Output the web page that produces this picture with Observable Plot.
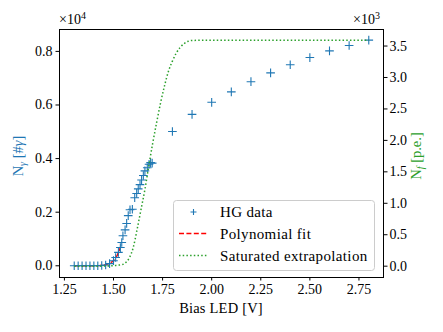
<!DOCTYPE html>
<html><head><meta charset="utf-8">
<script src="https://cdn.jsdelivr.net/npm/d3@7"></script>
<script src="https://cdn.jsdelivr.net/npm/@observablehq/plot@0.6"></script>
<style>
body{margin:0;background:#fff;}
#chart{position:relative;width:443px;height:332px;}
#chart svg, #chart svg text { font-family: "Liberation Serif", "DejaVu Serif", serif !important; }
</style></head><body><div id="chart"></div>
<script>
// HG data (left axis, units of 10^4 photons)
const hgBias = [1.30,1.32,1.34,1.36,1.38,1.40,1.42,1.44,1.46,1.48,1.50,1.511,1.525,1.535,1.542,1.548,1.559,1.567,1.575,1.584,1.596,1.608,1.618,1.626,1.635,1.643,1.652,1.66,1.672,1.681,1.689,1.697,1.8,1.9,2.0,2.1,2.2,2.3,2.4,2.5,2.6,2.7,2.8];
const hgPhotons = [0,0,0,0,0,0,0,0.001,0.003,0.008,0.019,0.031,0.05,0.068,0.087,0.112,0.134,0.158,0.187,0.209,0.211,0.254,0.27,0.287,0.303,0.32,0.337,0.354,0.366,0.379,0.385,0.383,0.501,0.565,0.610,0.649,0.687,0.720,0.750,0.777,0.802,0.822,0.842];
// Polynomial fit (left axis, units of 10^4)
const fitBias = [1.30,1.35,1.40,1.43,1.46,1.48,1.50,1.51,1.52,1.53,1.535];
const fitPhotons = [0,0,0,0.001,0.004,0.009,0.018,0.027,0.041,0.058,0.07];
// Saturated extrapolation (right axis, units of 10^3 p.e.)
const satBias = [1.30,1.40,1.45,1.50,1.52,1.54,1.56,1.58,1.60,1.62,1.64,1.66,1.68,1.70,1.72,1.74,1.76,1.78,1.80,1.82,1.84,1.86,1.88,1.90,1.95,2.00,2.20,2.40,2.60,2.80];
const satPE = [0,0,0.002,0.008,0.015,0.022,0.05,0.13,0.29,0.58,0.90,1.22,1.60,1.96,2.29,2.60,2.87,3.10,3.26,3.39,3.48,3.54,3.575,3.588,3.592,3.593,3.593,3.593,3.593,3.593];

const xTicks = [1.25,1.50,1.75,2.00,2.25,2.50,2.75];
const leftTicks = [0,0.2,0.4,0.6,0.8];
const rightTicks = [0,0.5,1.0,1.5,2.0,2.5,3.0,3.5];
const xDomain = [1.225, 2.875];
const leftDomain = [-0.0437, 0.8817];
const rightDomain = [-0.18, 3.763];

const BLUE = "#1f77b4", GREEN = "#2ca02c", RED = "#ff0000";
const FONT = "'Liberation Serif', 'DejaVu Serif', serif";

const ratio = (leftDomain[1]-leftDomain[0])/(rightDomain[1]-rightDomain[0]);
const toLeft = v => leftDomain[0] + (v - rightDomain[0]) * ratio;
const fromLeft = v => rightDomain[0] + (v - leftDomain[0]) / ratio;

const hg = hgBias.map((x,i)=>({x, y: hgPhotons[i]}));
const fit = fitBias.map((x,i)=>({x, y: fitPhotons[i]}));
const sat = satBias.map((x,i)=>({x, y: satPE[i]}));

const plot = Plot.plot({
  width: 443, height: 332,
  marginLeft: 59, marginRight: 60, marginTop: 29, marginBottom: 55,
  style: {fontFamily: FONT, fontSize: "14px", color: "black", background: "white", overflow: "visible"},
  x: {domain: xDomain},
  y: {domain: leftDomain},
  marks: [
    Plot.line(fit, {x: "x", y: "y", stroke: RED, strokeWidth: 1.4, strokeDasharray: "5,2.4", strokeLinecap: "butt"}),
    Plot.dot(hg, {x: "x", y: "y", symbol: "plus", r: 2.9, stroke: BLUE, strokeWidth: 1.1}),
    Plot.line(sat, {x: "x", y: d => toLeft(d.y), stroke: GREEN, strokeWidth: 1.5, strokeDasharray: "1.5,2.2", strokeLinecap: "butt", curve: "monotone-x"}),
    Plot.axisX(xTicks, {tickSize: 3.5, tickPadding: 3, tickFormat: d => d.toFixed(2), label: null, fontSize: 14}),
    Plot.axisY(leftTicks, {anchor: "left", tickSize: 3.5, tickPadding: 3.5, tickFormat: d => d.toFixed(1), label: null, fontSize: 14}),
    Plot.axisY(rightTicks.map(toLeft), {anchor: "right", tickSize: 3.5, tickPadding: 2.5, tickFormat: d => fromLeft(d).toFixed(1), label: null, fontSize: 14}),
    Plot.frame({stroke: "black", strokeWidth: 1})
  ]
});
document.getElementById("chart").appendChild(plot);

const svg = d3.select(plot);
function txt(sel, x, y, anchor, size) {
  return sel.append("text").attr("x", x).attr("y", y)
    .style("text-anchor", anchor).style("font-size", (size || 14) + "px");
}
// offset multipliers
txt(svg, 59, 24, "start").text("×10").append("tspan").attr("dy", -5).style("font-size", "10px").text("4");
txt(svg, 353, 24, "start").text("×10").append("tspan").attr("dy", -5).style("font-size", "10px").text("3");

// x label
txt(svg, 221, 313, "middle", 14.5).style("letter-spacing", "0.2px").text("Bias LED [V]");

// left label
const ll = svg.append("text").attr("transform", "translate(23,156) rotate(-90)")
  .style("text-anchor", "middle").style("font-size", "14.5px").attr("fill", BLUE);
ll.append("tspan").text("N");
ll.append("tspan").attr("dy", 3).style("font-size", "10px").style("font-style", "italic").text("γ");
ll.append("tspan").attr("dy", -3).text(" [#");
ll.append("tspan").style("font-style", "italic").text("γ");
ll.append("tspan").text("]");

// right label
const rl = svg.append("text").attr("transform", "translate(421,156) rotate(-90)")
  .style("text-anchor", "middle").style("font-size", "14.5px").attr("fill", GREEN);
rl.append("tspan").text("N");
rl.append("tspan").attr("dy", 3).style("font-size", "10px").style("font-style", "italic").text("f");
rl.append("tspan").attr("dy", -3).text(" [p.e.]");

// legend
const lg = svg.append("g");
lg.append("rect").attr("x", 173.5).attr("y", 200.5).attr("width", 201).attr("height", 70).attr("rx", 3)
  .attr("fill", "white").attr("fill-opacity", 0.8).attr("stroke", "#cccccc").attr("stroke-width", 1);
lg.append("path").attr("d", "M190.5,212H196.5M193.5,209V215").attr("stroke", BLUE).attr("stroke-width", 1.1);
txt(lg, 220, 216.5, "start", 15).style("letter-spacing", "0.35px").text("HG data");
lg.append("line").attr("x1", 179).attr("x2", 207).attr("y1", 233.5).attr("y2", 233.5)
  .attr("stroke", RED).attr("stroke-width", 1.4).attr("stroke-dasharray", "5,2.4");
txt(lg, 220, 238.5, "start", 15).style("letter-spacing", "0.35px").text("Polynomial fit");
lg.append("line").attr("x1", 179).attr("x2", 207).attr("y1", 255.5).attr("y2", 255.5)
  .attr("stroke", GREEN).attr("stroke-width", 1.5).attr("stroke-dasharray", "1.5,2.2");
txt(lg, 220, 260.5, "start", 15).style("letter-spacing", "0.35px").text("Saturated extrapolation");
</script></body></html>
